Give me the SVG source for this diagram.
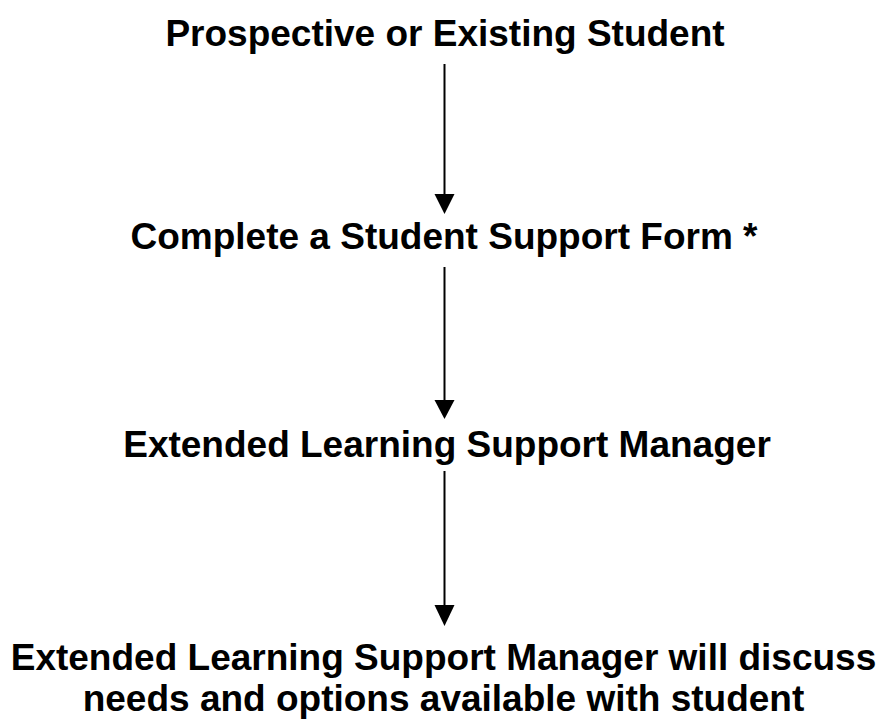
<svg xmlns="http://www.w3.org/2000/svg" width="887" height="719" viewBox="0 0 887 719">
  <style>
    .label { font-family: "Liberation Sans", Arial, sans-serif; font-weight: bold; font-size: 37px; fill: #000; text-anchor: middle; }
    .link { stroke: #000; stroke-width: 2; fill: none; }
    .head { fill: #000; }
  </style>
  <rect width="887" height="719" fill="#fff"/>

  <g id="connectors">
    <line class="link" x1="444.5" y1="64" x2="444.5" y2="196"/>
    <polygon class="head" points="434.5,194 454.5,194 444.5,214"/>
    <line class="link" x1="444.5" y1="267" x2="444.5" y2="402"/>
    <polygon class="head" points="434.5,400 454.5,400 444.5,419"/>
    <line class="link" x1="444.5" y1="471" x2="444.5" y2="607"/>
    <polygon class="head" points="434.5,605 454.5,605 444.5,626"/>
  </g>

  <g id="node-student">
    <text class="label" x="445" y="46">Prospective or Existing Student</text>
  </g>
  <g id="node-form">
    <text class="label" x="444" y="249">Complete a Student Support Form *</text>
  </g>
  <g id="node-manager">
    <text class="label" x="447" y="457">Extended Learning Support Manager</text>
  </g>
  <g id="node-discussion">
    <text class="label" x="443.5" y="670">Extended Learning Support Manager will discuss</text>
    <text class="label" x="443.5" y="711">needs and options available with student</text>
  </g>
</svg>
